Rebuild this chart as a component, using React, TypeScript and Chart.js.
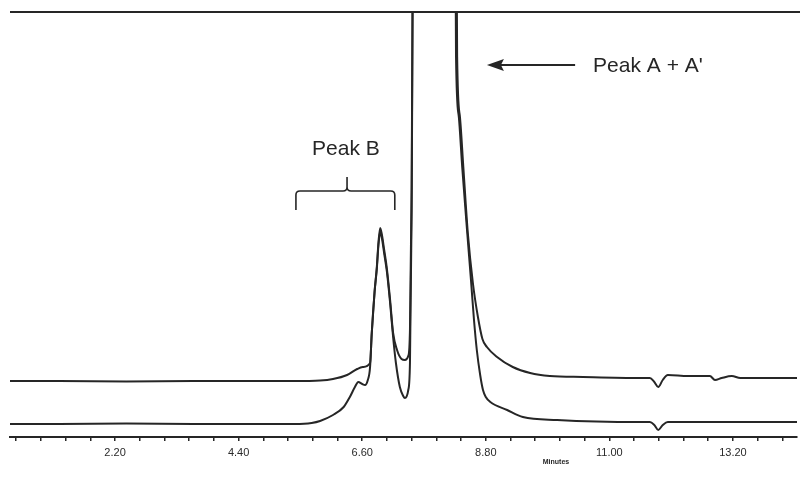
import React, { useEffect, useRef } from "react";
import { Chart, registerables } from "chart.js";

Chart.register(...registerables);

// Retention time (minutes) and detector signal (mV) for the two overlaid chromatograms
const upperTimes = [
  0.33, 1.2, 2.4, 3.6, 4.8, 5.4, 5.85, 6.08, 6.33, 6.51, 6.61, 6.74, 6.77, 6.82, 6.86, 6.89,
  6.92, 6.95, 6.99, 7.04, 7.1, 7.15, 7.22, 7.3, 7.36, 7.42, 7.45, 7.48, 7.51, 7.6, 7.9, 8.2,
  8.27, 8.29, 8.34, 8.4, 8.48, 8.57, 8.66, 8.74, 8.82, 9.0, 9.28, 9.59, 9.94, 10.53, 11.55,
  11.72, 11.8, 11.87, 11.95, 12.04, 12.4, 12.79, 12.88, 13.0, 13.18, 13.33, 14.34,
];
const upperSignal = [
  112, 112, 111, 112, 112, 112, 113, 116, 124, 136, 140, 148, 208, 290, 340, 390,
  418, 405, 375, 336, 270, 208, 174, 156, 154, 162, 214, 500, 1200, 3000, 6000, 3000,
  1200, 760, 640, 540, 408, 308, 240, 196, 180, 160, 140, 128, 122, 120, 118,
  118, 110, 100, 114, 124, 122, 122, 114, 118, 122, 118, 118,
];

const lowerTimes = [
  0.33, 1.2, 2.4, 3.6, 4.8, 5.4, 5.7, 5.85, 6.08, 6.27, 6.38, 6.47, 6.53, 6.6, 6.65, 6.7,
  6.74, 6.77, 6.82, 6.86, 6.89, 6.92, 6.95, 6.99, 7.04, 7.1, 7.15, 7.2, 7.27, 7.33, 7.36,
  7.42, 7.45, 7.48, 7.51, 7.6, 7.9, 8.2, 8.25, 8.27, 8.32, 8.38, 8.47, 8.54, 8.59, 8.64,
  8.7, 8.75, 8.8, 8.88, 9.18, 9.46, 10.07, 11.55, 11.72, 11.8, 11.87, 11.95, 12.04, 14.34,
];
const lowerSignal = [
  26, 26, 27, 26, 26, 26, 28, 32, 44, 60, 80, 100, 110, 106, 104, 114,
  140, 208, 290, 336, 385, 410, 398, 368, 330, 264, 200, 148, 100, 82, 78,
  94, 148, 450, 1200, 3000, 6000, 3000, 1200, 760, 640, 540, 408, 308, 234, 174,
  124, 94, 80, 70, 54, 40, 34, 30, 30, 24, 14, 24, 30, 30,
];

// Axis ranges and ticks
const timeRange = [0.33, 14.34];
const signalRange = [0, 850];
const minorTickStep = 0.44;
const majorTicks = [2.2, 4.4, 6.6, 8.8, 11.0, 13.2];
const majorTickLabels = ["2.20", "4.40", "6.60", "8.80", "11.00", "13.20"];
const axisTitle = "Minutes";
const axisTitleTime = 10.05;

// Annotations (in data units)
const peakBLabel = "Peak B";
const peakBBracket = { from: 5.42, to: 7.18, mid: 6.33, legBottom: 454, bar: 492, nib: 520 };
const peakBTextPos = { x: 6.31, y: 576 };
const peakALabel = "Peak A + A'";
const peakAArrow = { tip: 8.82, tail: 10.39, y: 744 };
const peakATextPos = { x: 10.71, y: 742 };

const ink = "#262626";

const annotationPlugin = {
  id: "chromAnnotations",
  afterDatasetsDraw(chart: any) {
    const { ctx, chartArea, scales } = chart;
    const xs = scales.x;
    const ys = scales.y;
    const px = (v: number) => xs.getPixelForValue(v);
    const py = (v: number) => ys.getPixelForValue(v);
    ctx.save();
    // top frame line
    ctx.strokeStyle = ink;
    ctx.lineWidth = 2;
    ctx.beginPath();
    ctx.moveTo(chartArea.left, chartArea.top);
    ctx.lineTo(chartArea.right + 3, chartArea.top);
    ctx.stroke();

    // bracket for Peak B
    const b = peakBBracket;
    const x1 = px(b.from), x2 = px(b.to), xm = px(b.mid);
    const yl = py(b.legBottom), yb = py(b.bar), yn = py(b.nib);
    const r = 4;
    ctx.lineWidth = 1.6;
    ctx.beginPath();
    ctx.moveTo(x1, yl);
    ctx.lineTo(x1, yb + r);
    ctx.quadraticCurveTo(x1, yb, x1 + r, yb);
    ctx.lineTo(xm - r, yb);
    ctx.quadraticCurveTo(xm, yb, xm, yb - r);
    ctx.lineTo(xm, yn);
    ctx.moveTo(xm, yb - r);
    ctx.quadraticCurveTo(xm, yb, xm + r, yb);
    ctx.lineTo(x2 - r, yb);
    ctx.quadraticCurveTo(x2, yb, x2, yb + r);
    ctx.lineTo(x2, yl);
    ctx.stroke();

    ctx.fillStyle = ink;
    ctx.font = "21px 'Liberation Sans', Arial, sans-serif";
    ctx.textAlign = "center";
    ctx.textBaseline = "middle";
    ctx.fillText(peakBLabel, px(peakBTextPos.x), py(peakBTextPos.y));

    // arrow for Peak A + A'
    const a = peakAArrow;
    const tipX = px(a.tip), tailX = px(a.tail), ay = py(a.y);
    ctx.lineWidth = 2;
    ctx.beginPath();
    ctx.moveTo(tailX, ay);
    ctx.lineTo(tipX + 12, ay);
    ctx.stroke();
    ctx.beginPath();
    ctx.moveTo(tipX, ay);
    ctx.lineTo(tipX + 17, ay - 6);
    ctx.lineTo(tipX + 14, ay);
    ctx.lineTo(tipX + 17, ay + 6);
    ctx.closePath();
    ctx.fill();

    ctx.textAlign = "left";
    ctx.fillText(peakALabel, px(peakATextPos.x), py(peakATextPos.y));

    // axis title
    ctx.font = "bold 7px 'Liberation Sans', Arial, sans-serif";
    ctx.textAlign = "center";
    ctx.fillText(axisTitle, px(axisTitleTime), chartArea.bottom + 25);
    ctx.restore();
  },
};

export default function App() {
  const canvasRef = useRef<HTMLCanvasElement | null>(null);

  useEffect(() => {
    if (!canvasRef.current) return;
    const toPoints = (xs: number[], ys: number[]) => xs.map((x, i) => ({ x, y: ys[i] }));
    const tickValues: number[] = [];
    for (let k = 1; k * minorTickStep <= timeRange[1]; k++) {
      tickValues.push(Math.round(k * minorTickStep * 100) / 100);
    }
    const chart = new Chart(canvasRef.current, {
      type: "line",
      data: {
        datasets: [
          {
            label: "Sample 1",
            data: toPoints(upperTimes, upperSignal),
            borderColor: ink,
            borderWidth: 2,
            pointRadius: 0,
            cubicInterpolationMode: "monotone",
          },
          {
            label: "Sample 2",
            data: toPoints(lowerTimes, lowerSignal),
            borderColor: ink,
            borderWidth: 2,
            pointRadius: 0,
            cubicInterpolationMode: "monotone",
          },
        ],
      },
      options: {
        animation: false,
        responsive: false,
        layout: { padding: { left: 10, right: 13, top: 12, bottom: 0 } },
        plugins: { legend: { display: false }, tooltip: { enabled: false } },
        scales: {
          x: {
            type: "linear",
            min: timeRange[0],
            max: timeRange[1],
            afterBuildTicks: (scale: any) => {
              scale.ticks = tickValues.map((v) => ({ value: v }));
            },
            afterFit: (scale: any) => {
              scale.height = 43;
            },
            ticks: {
              autoSkip: false,
              maxRotation: 0,
              padding: 5,
              color: "#2a2a2a",
              font: { family: "'Liberation Sans', Arial, sans-serif", size: 11 },
              callback: (value: any) => {
                const i = majorTicks.findIndex((m) => Math.abs(m - Number(value)) < 1e-6);
                return i >= 0 ? majorTickLabels[i] : "";
              },
            },
            grid: { drawOnChartArea: false, drawTicks: true, tickLength: 4, color: ink, lineWidth: 1.5 },
            border: { display: true, color: ink, width: 2 },
          },
          y: { display: false, min: signalRange[0], max: signalRange[1] },
        },
      },
      plugins: [annotationPlugin],
    });
    return () => chart.destroy();
  }, []);

  return (
    <div style={{ position: "absolute", left: 0, top: 0, width: 810, height: 480, background: "#fff" }}>
      <canvas ref={canvasRef} width={810} height={480} style={{ display: "block" }} />
    </div>
  );
}
